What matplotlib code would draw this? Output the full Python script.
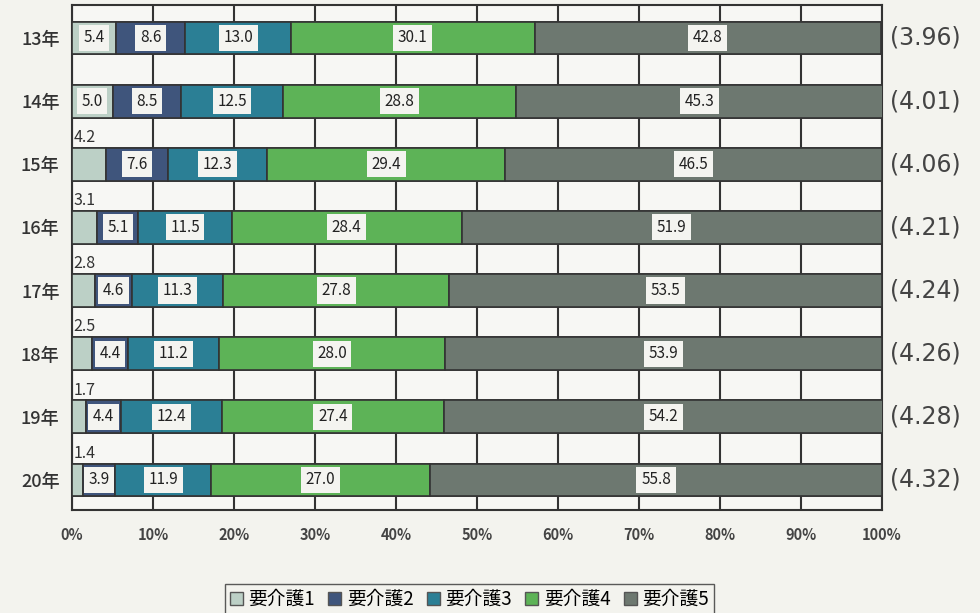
import matplotlib
matplotlib.use('Agg')
from matplotlib import pyplot as plt
from matplotlib.patches import Patch
import numpy as np

plt.rcParams['font.family'] = ['Noto Sans CJK JP', 'DejaVu Sans']

years = ['13年', '14年', '15年', '16年', '17年', '18年', '19年', '20年']
care1 = [5.4, 5.0, 4.2, 3.1, 2.8, 2.5, 1.7, 1.4]
care2 = [8.6, 8.5, 7.6, 5.1, 4.6, 4.4, 4.4, 3.9]
care3 = [13.0, 12.5, 12.3, 11.5, 11.3, 11.2, 12.4, 11.9]
care4 = [30.1, 28.8, 29.4, 28.4, 27.8, 28.0, 27.4, 27.0]
care5 = [42.8, 45.3, 46.5, 51.9, 53.5, 53.9, 54.2, 55.8]
averages = ['(3.96)', '(4.01)', '(4.06)', '(4.21)', '(4.24)', '(4.26)', '(4.28)', '(4.32)']
names = ['要介護1', '要介護2', '要介護3', '要介護4', '要介護5']
colors = ['#bcd0c6', '#3f557c', '#2b7f95', '#5db357', '#6d7870']

paper = '#f3f3ee'
fig = plt.figure(figsize=(9.8, 6.13), dpi=100, facecolor=paper)
ax = fig.add_axes([0.0735, 0.168, 0.8265, 0.824])
ax.set_facecolor('#f7f7f4')

series = [care1, care2, care3, care4, care5]
y = np.arange(len(years))
left = np.zeros(len(years))
for k, vals in enumerate(series):
    vals = np.array(vals)
    ax.barh(y, vals, left=left, height=0.52, color=colors[k],
            edgecolor='#333333', linewidth=1.2, zorder=3)
    for i, v in enumerate(vals):
        cx = left[i] + v / 2
        if k == 0 and v < 4.5:
            ax.text(left[i] + 0.2, i - 0.29, f'{v:.1f}', ha='left', va='bottom',
                    fontsize=11.5, color='#333333', zorder=5)
        else:
            ax.text(cx, i, f'{v:.1f}', ha='center', va='center', fontsize=11,
                    color='#222222', zorder=5,
                    bbox=dict(boxstyle='square,pad=0.3', fc='#f4f4f0', ec='none'))
    left = left + vals

# horizontal lines between rows
for i in range(len(years)):
    ax.hlines([i - 0.26, i + 0.26], 0, 100, color='#333333', lw=1.2, zorder=2)

ax.set_xlim(0, 100)
ax.set_ylim(len(years) - 0.524, -0.524)
ax.set_xticks(np.arange(0, 101, 10))
ax.set_xticklabels([f'{t}%' for t in range(0, 101, 10)], fontsize=10.5,
                   color='#444444', fontweight='bold')
ax.set_yticks(y)
ax.set_yticklabels(years, fontsize=13, color='#333333', fontweight='medium')
ax.tick_params(length=0, pad=12)
ax.tick_params(axis='y', pad=9)
ax.grid(axis='x', color='#333333', lw=1.5, zorder=1)
for s in ax.spines.values():
    s.set_color('#333333')
    s.set_linewidth(1.5)

for i, a in enumerate(averages):
    ax.text(101, i, a, ha='left', va='center', fontsize=17, color='#444444',
            family='DejaVu Sans')

handles = [Patch(facecolor=c, edgecolor='#555555') for c in colors]
fig.legend(handles, names, loc='center', bbox_to_anchor=(0.479, 0.022), ncol=5,
           frameon=True, fancybox=False, edgecolor='#333333', fontsize=13.5,
           handlelength=0.7, handleheight=0.7, handletextpad=0.3, columnspacing=0.7,
           borderpad=0.25, facecolor=paper)

fig.savefig('out.png', dpi=100, facecolor=paper)
